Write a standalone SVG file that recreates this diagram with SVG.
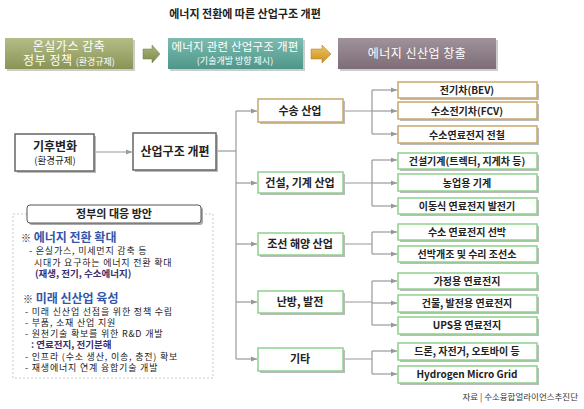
<svg xmlns="http://www.w3.org/2000/svg" width="584" height="409" viewBox="0 0 584 409">
<defs>
<linearGradient id="g1" x1="0" y1="0" x2="0" y2="1"><stop offset="0" stop-color="#b4bd88"/><stop offset="1" stop-color="#8a9456"/></linearGradient>
<linearGradient id="g2" x1="0" y1="0" x2="0" y2="1"><stop offset="0" stop-color="#7cbcb0"/><stop offset="1" stop-color="#4f968a"/></linearGradient>
<linearGradient id="g3" x1="0" y1="0" x2="0" y2="1"><stop offset="0" stop-color="#a0929b"/><stop offset="1" stop-color="#7c6d76"/></linearGradient>
<linearGradient id="ga1" x1="0" y1="0" x2="0" y2="1"><stop offset="0" stop-color="#aab57a"/><stop offset="1" stop-color="#7d884c"/></linearGradient>
<linearGradient id="ga2" x1="0" y1="0" x2="0" y2="1"><stop offset="0" stop-color="#f0c460"/><stop offset="1" stop-color="#c98f22"/></linearGradient>
<marker id="ah" viewBox="0 0 6 6" refX="6" refY="3" markerWidth="6" markerHeight="6" orient="auto" markerUnits="userSpaceOnUse"><path d="M0,0.5 L6,3 L0,5.5 z" fill="#999"/></marker>
</defs>
<style>
text{font-family:"Noto Sans CJK KR","Noto Sans",sans-serif;}
.t{font-size:11px;font-weight:bold;fill:#222;text-anchor:middle;}
.w{font-size:12px;fill:#fff;text-anchor:middle;letter-spacing:0.5px;}
.ws{font-size:9px;letter-spacing:0;}
.sh{fill:#bbb;}
.nb{fill:#fff;stroke-width:1.5;}
.tan{stroke:#c9a86c;}
.grn{stroke:#8fd18c;}
.gry{stroke:#666;}
.c{fill:none;stroke:#999;stroke-width:1.2;}
.l{font-size:9px;fill:#222;letter-spacing:0.8px;}
.b{font-size:12px;font-weight:bold;fill:#3355aa;}
.p{font-size:9.5px;font-weight:bold;fill:#3b2e6e;}
</style>
<text x="245" y="18" class="t" style="font-size:11px">에너지 전환에 따른 산업구조 개편</text>

<g id="top1"><rect x="7" y="40" width="128" height="31" fill="#999" opacity="0.5"/><rect x="5" y="38" width="128" height="31" fill="url(#g1)"/>
<text x="69" y="51" class="w">온실가스 감축</text><text x="69" y="65" class="w">정부 정책 <tspan class="ws">(환경규제)</tspan></text></g>
<g id="top2"><rect x="170" y="40" width="135" height="31" fill="#999" opacity="0.5"/><rect x="168" y="38" width="135" height="31" fill="url(#g2)"/>
<text x="235" y="51" class="w" style="font-size:11.5px;letter-spacing:0.2px">에너지 관련 산업구조 개편</text><text x="235" y="64" class="w ws">(기술개발 방향 제시)</text></g>
<g id="top3"><rect x="340" y="40" width="158" height="31" fill="#999" opacity="0.5"/><rect x="338" y="38" width="158" height="31" fill="url(#g3)"/>
<text x="417" y="58" class="w">에너지 신산업 창출</text></g>
<g id="arrows-top">
<path d="M143,49 L152,49 L152,45 L160,54 L152,63 L152,59 L143,59 z" fill="url(#ga1)" stroke="#6f7a42" stroke-width="0.5"/>
<path d="M311,49 L322,49 L322,45 L331,54 L322,63 L322,59 L311,59 z" fill="url(#ga2)" stroke="#b07a18" stroke-width="0.5"/>
</g>

<g id="connectors">
<line class="c" x1="95" y1="152" x2="132" y2="152" marker-end="url(#ah)"/>
<path class="c" d="M217,151 H236"/>
<path class="c" d="M236,111 V359"/>
<line class="c" x1="236" y1="111" x2="257" y2="111" marker-end="url(#ah)"/>
<line class="c" x1="236" y1="183" x2="257" y2="183" marker-end="url(#ah)"/>
<line class="c" x1="236" y1="244" x2="257" y2="244" marker-end="url(#ah)"/>
<line class="c" x1="236" y1="302" x2="257" y2="302" marker-end="url(#ah)"/>
<line class="c" x1="236" y1="359" x2="257" y2="359" marker-end="url(#ah)"/>
<path class="c" d="M344,111 H372 M372,90 V134"/>
<line class="c" x1="372" y1="90" x2="397" y2="90" marker-end="url(#ah)"/>
<line class="c" x1="372" y1="111" x2="397" y2="111" marker-end="url(#ah)"/>
<line class="c" x1="372" y1="134" x2="397" y2="134" marker-end="url(#ah)"/>
<path class="c" d="M344,183 H372 M372,160 V206"/>
<line class="c" x1="372" y1="160" x2="397" y2="160" marker-end="url(#ah)"/>
<line class="c" x1="372" y1="183" x2="397" y2="183" marker-end="url(#ah)"/>
<line class="c" x1="372" y1="206" x2="397" y2="206" marker-end="url(#ah)"/>
<path class="c" d="M344,244 H372 M372,232 V254"/>
<line class="c" x1="372" y1="232" x2="397" y2="232" marker-end="url(#ah)"/>
<line class="c" x1="372" y1="254" x2="397" y2="254" marker-end="url(#ah)"/>
<path class="c" d="M344,302 H372 M372,281 V325"/>
<line class="c" x1="372" y1="281" x2="397" y2="281" marker-end="url(#ah)"/>
<line class="c" x1="372" y1="303" x2="397" y2="303" marker-end="url(#ah)"/>
<line class="c" x1="372" y1="325" x2="397" y2="325" marker-end="url(#ah)"/>
<path class="c" d="M344,359 H372 M372,351 V374"/>
<line class="c" x1="372" y1="351" x2="397" y2="351" marker-end="url(#ah)"/>
<line class="c" x1="372" y1="374" x2="397" y2="374" marker-end="url(#ah)"/>
</g>

<g id="n-climate"><rect x="17" y="136" width="79" height="37" class="sh"/><rect x="15" y="134" width="79" height="37" class="nb gry" stroke-width="1"/>
<text x="55" y="151" class="t" style="font-size:12px">기후변화</text><text x="55" y="164" style="font-size:9.5px;fill:#222;text-anchor:middle">(환경규제)</text></g>
<g id="n-restructure"><rect x="135" y="135" width="83" height="37" class="sh"/><rect x="133" y="133" width="83" height="37" class="nb gry" stroke-width="1"/>
<text x="175" y="156" class="t" style="font-size:12px">산업구조 개편</text></g>

<g id="n-transport"><rect x="260" y="101" width="85" height="23" class="sh"/><rect x="258" y="99" width="85" height="23" class="nb tan"/><text x="300" y="115" class="t">수송 산업</text></g>
<g id="n-construct"><rect x="260" y="174" width="85" height="21" class="sh"/><rect x="258" y="172" width="85" height="21" class="nb grn"/><text x="300" y="187" class="t">건설, 기계 산업</text></g>
<g id="n-ship"><rect x="260" y="235" width="85" height="22" class="sh"/><rect x="258" y="233" width="85" height="22" class="nb grn"/><text x="300" y="248" class="t">조선 해양 산업</text></g>
<g id="n-heat"><rect x="260" y="293" width="85" height="22" class="sh"/><rect x="258" y="291" width="85" height="22" class="nb grn"/><text x="300" y="306" class="t">난방, 발전</text></g>
<g id="n-etc"><rect x="260" y="350" width="85" height="23" class="sh"/><rect x="258" y="348" width="85" height="23" class="nb grn"/><text x="300" y="363" class="t">기타</text></g>

<g id="n-bev"><rect x="400" y="84" width="139" height="16" class="sh"/><rect x="398" y="82" width="139" height="16" class="nb tan"/><text x="467" y="94" class="t" style="font-size:10px">전기차(BEV)</text></g>
<g id="n-fcv"><rect x="400" y="104" width="139" height="17" class="sh"/><rect x="398" y="102" width="139" height="17" class="nb tan"/><text x="467" y="115" class="t" style="font-size:10px">수소전기차(FCV)</text></g>
<g id="n-train"><rect x="400" y="128" width="139" height="17" class="sh"/><rect x="398" y="126" width="139" height="17" class="nb tan"/><text x="467" y="139" class="t" style="font-size:10px">수소연료전지 전철</text></g>
<g id="n-cmach"><rect x="400" y="155" width="139" height="16" class="sh"/><rect x="398" y="153" width="139" height="16" class="nb grn"/><text x="467" y="165" class="t" style="font-size:10px">건설기계(트렉터, 지게차 등)</text></g>
<g id="n-agri"><rect x="400" y="176" width="139" height="17" class="sh"/><rect x="398" y="174" width="139" height="17" class="nb grn"/><text x="467" y="187" class="t" style="font-size:10px">농업용 기계</text></g>
<g id="n-mobile"><rect x="400" y="200" width="139" height="16" class="sh"/><rect x="398" y="198" width="139" height="16" class="nb grn"/><text x="467" y="210" class="t" style="font-size:10px">이동식 연료전지 발전기</text></g>
<g id="n-fcship"><rect x="400" y="226" width="139" height="16" class="sh"/><rect x="398" y="224" width="139" height="16" class="nb grn"/><text x="467" y="236" class="t" style="font-size:10px">수소 연료전지 선박</text></g>
<g id="n-yard"><rect x="400" y="248" width="139" height="16" class="sh"/><rect x="398" y="246" width="139" height="16" class="nb grn"/><text x="467" y="258" class="t" style="font-size:10px">선박개조 및 수리 조선소</text></g>
<g id="n-home"><rect x="400" y="275" width="139" height="16" class="sh"/><rect x="398" y="273" width="139" height="16" class="nb grn"/><text x="467" y="285" class="t" style="font-size:10px">가정용 연료전지</text></g>
<g id="n-bldg"><rect x="400" y="297" width="139" height="17" class="sh"/><rect x="398" y="295" width="139" height="17" class="nb grn"/><text x="467" y="307" class="t" style="font-size:10px">건물, 발전용 연료전지</text></g>
<g id="n-ups"><rect x="400" y="319" width="139" height="17" class="sh"/><rect x="398" y="317" width="139" height="17" class="nb grn"/><text x="467" y="329" class="t" style="font-size:10px">UPS용 연료전지</text></g>
<g id="n-drone"><rect x="400" y="345" width="139" height="17" class="sh"/><rect x="398" y="343" width="139" height="17" class="nb grn"/><text x="467" y="355" class="t" style="font-size:10px">드론, 자전거, 오토바이 등</text></g>
<g id="n-grid"><rect x="400" y="368" width="139" height="17" class="sh"/><rect x="398" y="366" width="139" height="17" class="nb grn"/><text x="467" y="378" class="t" style="font-size:10px">Hydrogen Micro Grid</text></g>

<g id="policy">
<rect x="13" y="214" width="200" height="164" fill="none" stroke="#c8c8c8" stroke-width="1" stroke-dasharray="2,2"/>
<rect x="29" y="207" width="174" height="18" rx="3" fill="#aaa"/>
<rect x="27" y="205" width="174" height="18" rx="3" fill="#fff" stroke="#555" stroke-width="1"/>
<text x="114" y="218" class="t">정부의 대응 방안</text>
<text x="21" y="242" class="b"><tspan fill="#222" style="font-size:10px">※</tspan> 에너지 전환 확대</text>
<text x="29" y="254" class="l">- 온실가스, 미세먼지 감축 등</text>
<text x="34" y="266" class="l">시대가 요구하는 에너지 전환 확대</text>
<text x="35" y="277" class="p">(재생, 전기, 수소에너지)</text>
<text x="23" y="303" class="b"><tspan fill="#222" style="font-size:10px">※</tspan> 미래 신산업 육성</text>
<text x="25" y="315" class="l">- 미래 신산업 선점을 위한 정책 수립</text>
<text x="25" y="326" class="l">- 부품, 소재 산업 지원</text>
<text x="25" y="337" class="l">- 원천기술 확보를 위한 R&amp;D 개발</text>
<text x="31" y="348" class="p">: 연료전지, 전기분해</text>
<text x="25" y="360" class="l">- 인프라 (수소 생산, 이송, 충전) 확보</text>
<text x="25" y="371" class="l">- 재생에너지 연계 융합기술 개발</text>
</g>
<text x="578" y="400" style="font-size:8.5px;fill:#333;text-anchor:end">자료 | 수소융합얼라이언스추진단</text>
</svg>
